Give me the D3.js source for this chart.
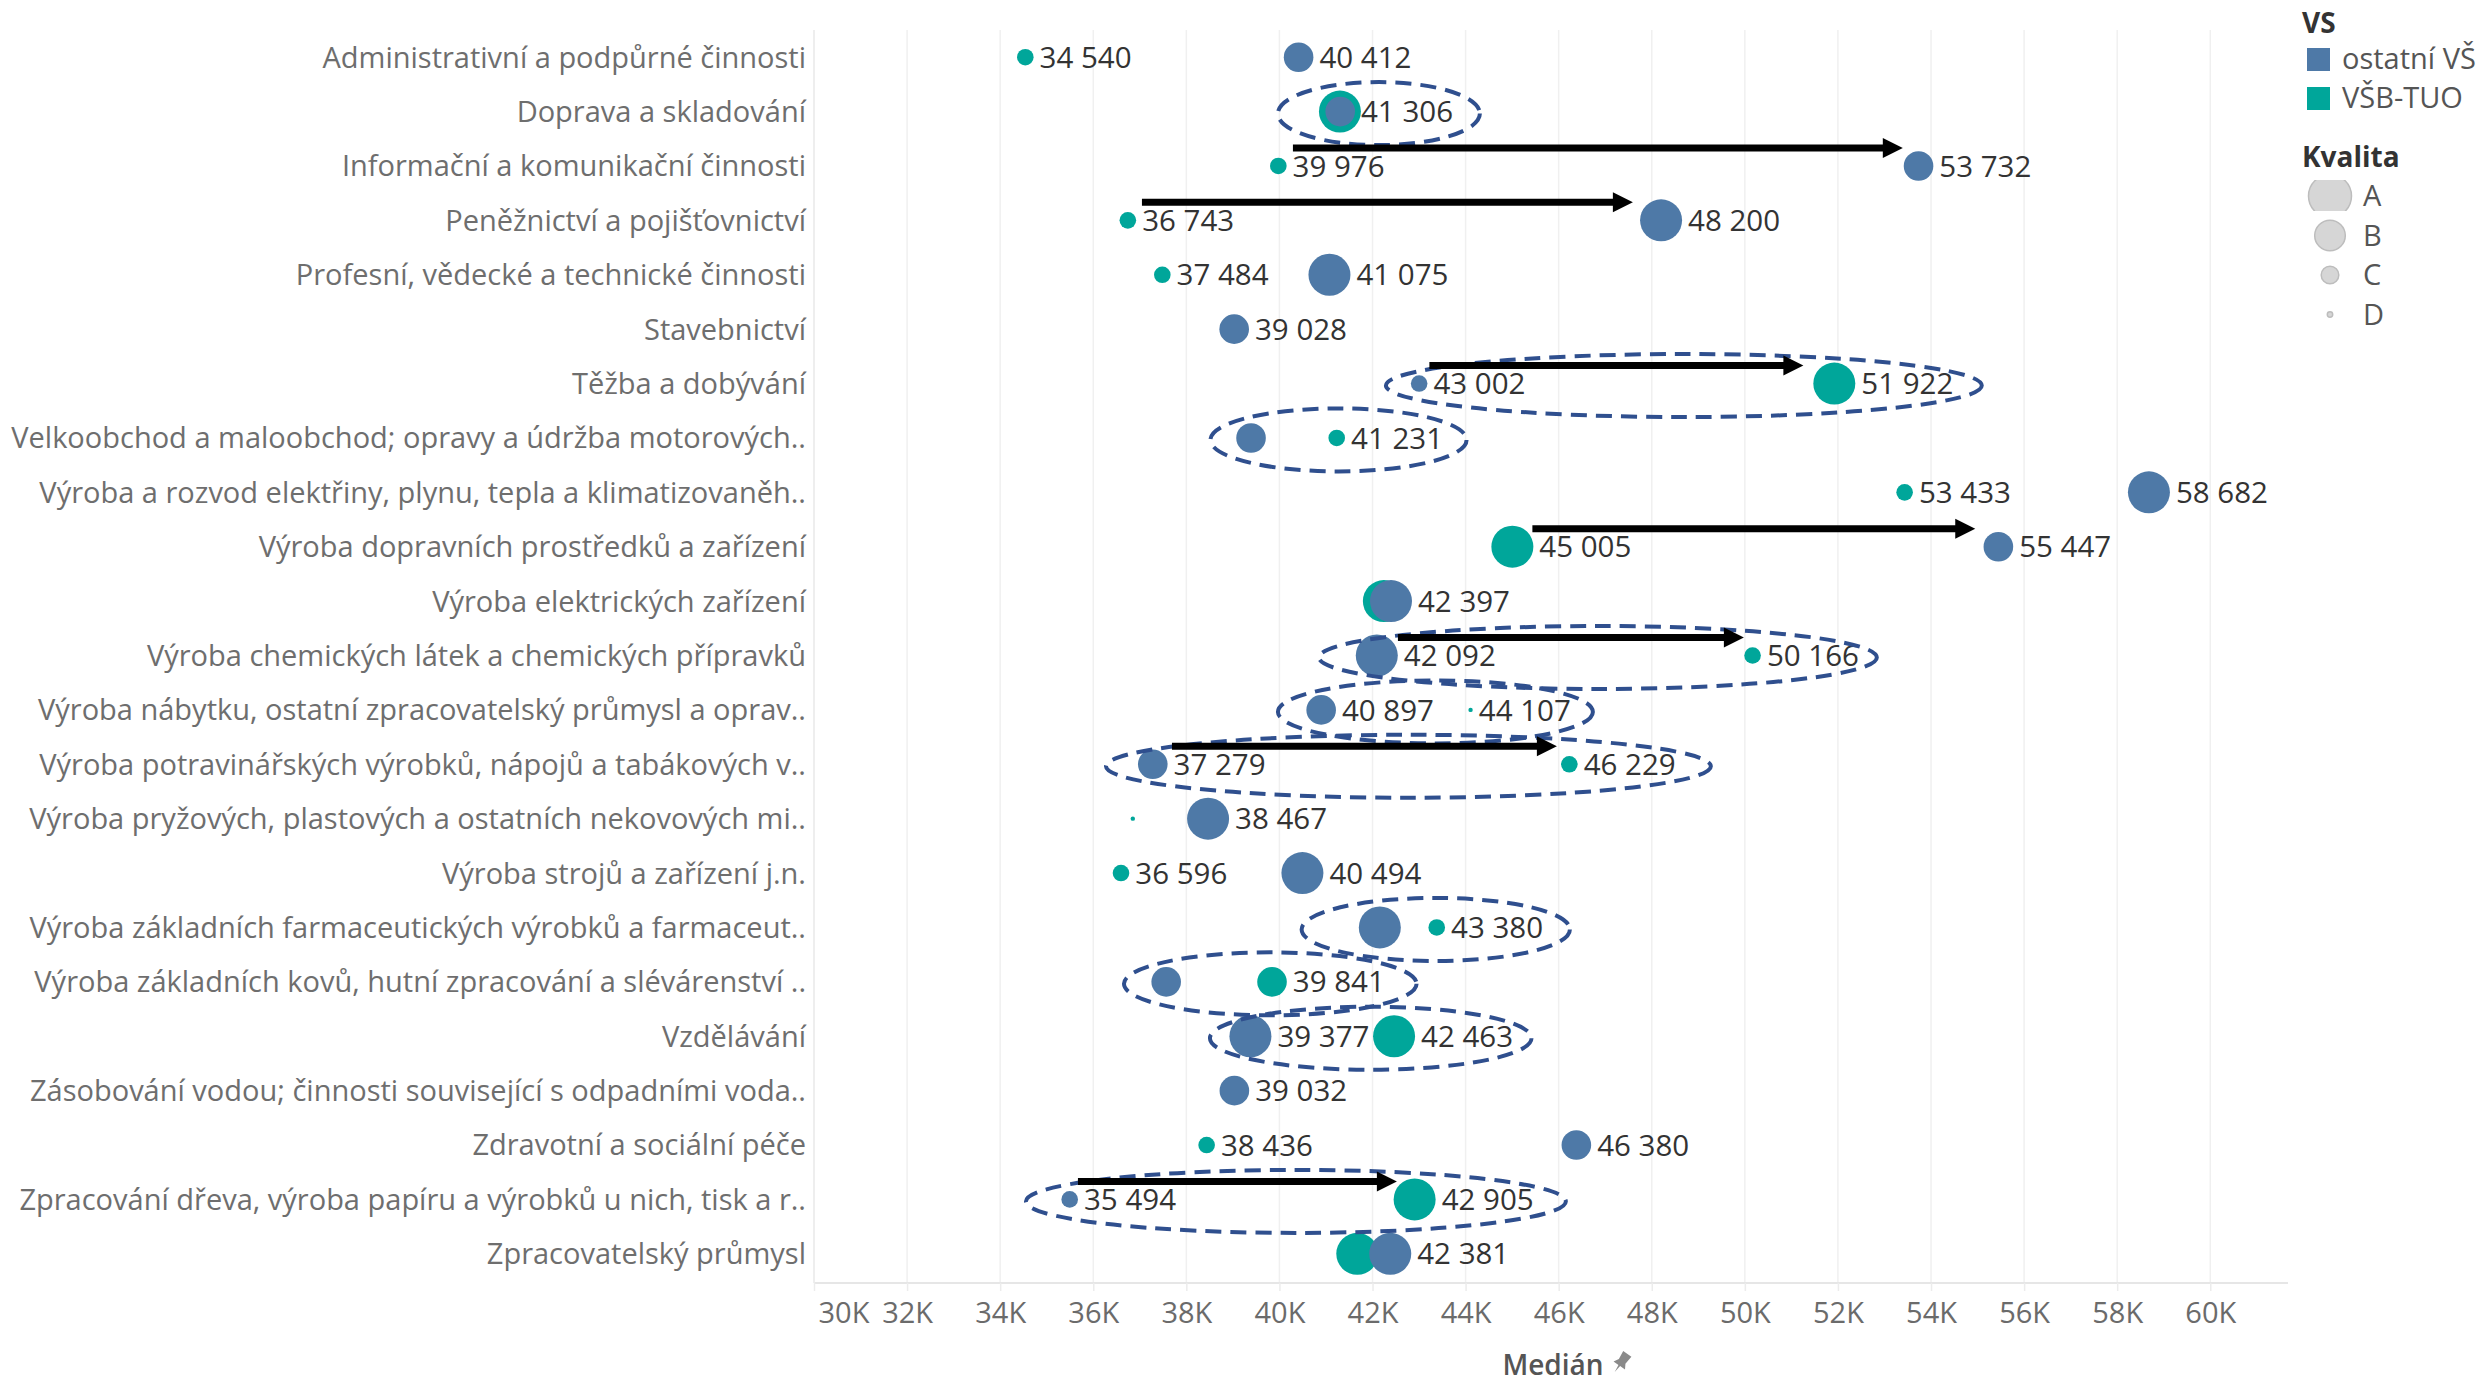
<!DOCTYPE html>
<html><head><meta charset="utf-8">
<script src="https://cdn.jsdelivr.net/npm/d3@7"></script>
<style>
html,body{margin:0;padding:0;background:#fff;}
text{font-family:"Open Sans",sans-serif;}
</style></head>
<body>
<script>
const categories = [
 "Administrativní a podpůrné činnosti",
 "Doprava a skladování",
 "Informační a komunikační činnosti",
 "Peněžnictví a pojišťovnictví",
 "Profesní, vědecké a technické činnosti",
 "Stavebnictví",
 "Těžba a dobývání",
 "Velkoobchod a maloobchod; opravy a údržba motorových..",
 "Výroba a rozvod elektřiny, plynu, tepla a klimatizovaněh..",
 "Výroba dopravních prostředků a zařízení",
 "Výroba elektrických zařízení",
 "Výroba chemických látek a chemických přípravků",
 "Výroba nábytku, ostatní zpracovatelský průmysl a oprav..",
 "Výroba potravinářských výrobků, nápojů a tabákových v..",
 "Výroba pryžových, plastových a ostatních nekovových mi..",
 "Výroba strojů a zařízení j.n.",
 "Výroba základních farmaceutických výrobků a farmaceut..",
 "Výroba základních kovů, hutní zpracování a slévárenství ..",
 "Vzdělávání",
 "Zásobování vodou; činnosti související s odpadními voda..",
 "Zdravotní a sociální péče",
 "Zpracování dřeva, výroba papíru a výrobků u nich, tisk a r..",
 "Zpracovatelský průmysl"
];
// ostatní VŠ
const otherValues  = [40412,41306,53732,48200,41075,39028,43002,39390,58682,55447,42397,42092,40897,37279,38467,40494,42157,37567,39377,39032,46380,35494,42381];
const otherQuality = ["B","B","B","A","A","B","C","B","A","B","A","A","B","B","A","A","A","B","A","B","B","C","A"];
const otherShowLabel = [1,1,1,1,1,1,1,0,1,1,1,1,1,1,1,1,0,0,1,1,1,1,1];
// VŠB-TUO
const vsbValues  = [34540,41300,39976,36743,37484,null,51922,41231,53433,45005,42244,50166,44107,46229,36850,36596,43380,39841,42463,null,38436,42905,41673];
const vsbQuality = ["C","A","C","C","C",null,"A","C","C","A","A","C","D","C","D","C","C","B","A",null,"C","A","A"];
const vsbShowLabel = [1,0,1,1,1,0,1,1,1,1,0,1,1,1,0,1,1,1,1,0,1,1,0];

const tickValues = [30000,32000,34000,36000,38000,40000,42000,44000,46000,48000,50000,52000,54000,56000,58000,60000];
const seriesNames = ["ostatní VŠ","VŠB-TUO"];
const qualityLevels = ["A","B","C","D"];

// annotations (in data units)
const arrowRows  = [2,3,6,9,11,13,21];
const arrowFrom  = [40290,37046,43222,45435,42546,37691,35671];
const arrowTo    = [53394,47594,51257,54950,49979,45961,42524];
const ellipseRows = [1,6,7,11,12,13,16,17,18,21];
const ellipseFrom = [39968,42288,38518,40849,39968,36273,40477,36660,38507,34554];
const ellipseTo   = [44307,55091,44021,52836,46735,49270,46241,42947,45416,46154];

const W = 2486, H = 1386;
const svg = d3.select("body").append("svg").attr("width", W).attr("height", H);

const x = d3.scaleLinear().domain([30000, 61670]).range([814, 2288]);
const y = d3.scaleBand().domain(categories).range([30, 1281]).padding(0);
const cy = c => y(c) + y.bandwidth() / 2;
const color = d3.scaleOrdinal().domain(seriesNames).range(["#4e79a7", "#00a69a"]);
const rSize = d3.scaleOrdinal().domain(qualityLevels).range([21, 14.8, 8.3, 2.2]);
const fmt = d3.formatLocale({decimal: ",", thousands: "\u00a0", grouping: [3]}).format(",d");

// gridlines
svg.append("g").selectAll("line").data(tickValues).join("line")
  .attr("x1", d => x(d)).attr("x2", d => x(d))
  .attr("y1", 30).attr("y2", 1283)
  .attr("stroke", "#f0f0f0").attr("stroke-width", 1.5);

// axis
const axis = d3.axisBottom(x).tickValues(tickValues).tickFormat(d => d / 1000 + "K").tickSize(8).tickSizeOuter(0).tickPadding(11);
const gAxis = svg.append("g").attr("transform", "translate(0,1283)").call(axis);
gAxis.select(".domain").attr("stroke", "#e6e6e6").attr("stroke-width", 2)
  .attr("d", `M${x.range()[0]},0H${x.range()[1]}`);
gAxis.selectAll(".tick line").attr("stroke", "#ececec").attr("stroke-width", 1.5);
gAxis.selectAll(".tick text").attr("fill", "#6b6b6b").style("font-size", "29px")
  .style("font-family", "'Open Sans',sans-serif")
  .attr("text-anchor", d => d === x.domain()[0] ? "start" : "middle")
  .attr("dx", d => d === x.domain()[0] ? 4 : 0);

// left border
svg.append("line").attr("x1", x.range()[0]).attr("x2", x.range()[0]).attr("y1", 30).attr("y2", 1283)
  .attr("stroke", "#ececec").attr("stroke-width", 1.5);

// row labels
svg.append("g").selectAll("text").data(categories).join("text")
  .attr("x", 806).attr("y", d => cy(d)).attr("dy", "0.36em")
  .attr("text-anchor", "end").attr("fill", "#6e6e6e").style("font-size", "29px")
  .text(d => d);

// axis title
svg.append("text").attr("x", 1553).attr("y", 1365).attr("dy", "0.36em").attr("text-anchor", "middle")
  .attr("fill", "#555").style("font-size", "28px").style("font-weight", 600).text("Medián");
// pin icon
svg.append("path").attr("transform", "translate(1621,1363) rotate(35)")
  .attr("d", "M-5,-11 L5,-11 L4,-2 L7,3 L1,3 L0,11 L-1,3 L-7,3 L-4,-2 Z")
  .attr("fill", "#8a8a8a");

// points
const points = [];
categories.forEach((c, i) => {
  if (vsbValues[i] != null) points.push({cat: c, s: seriesNames[1], v: vsbValues[i], q: vsbQuality[i], lab: vsbShowLabel[i]});
});
categories.forEach((c, i) => {
  if (otherValues[i] != null) points.push({cat: c, s: seriesNames[0], v: otherValues[i], q: otherQuality[i], lab: otherShowLabel[i]});
});

svg.append("g").selectAll("circle").data(points).join("circle")
  .attr("cx", d => x(d.v)).attr("cy", d => cy(d.cat)).attr("r", d => rSize(d.q))
  .attr("fill", d => color(d.s));

svg.append("g").selectAll("text").data(points.filter(d => d.lab)).join("text")
  .attr("x", d => x(d.v) + rSize(d.q) + 6).attr("y", d => cy(d.cat)).attr("dy", "0.36em")
  .attr("fill", "#333").style("font-size", "29.5px").text(d => fmt(d.v));

// ellipses
svg.append("g").selectAll("ellipse").data(ellipseRows.map((r, i) => ({r, a: ellipseFrom[i], b: ellipseTo[i]}))).join("ellipse")
  .attr("cx", d => (x(d.a) + x(d.b)) / 2).attr("cy", d => cy(categories[d.r]) + 2)
  .attr("rx", d => (x(d.b) - x(d.a)) / 2).attr("ry", 31.5)
  .attr("fill", "none").attr("stroke", "#2f4f8e").attr("stroke-width", 4).attr("stroke-dasharray", "16,9");

// arrows
const gArr = svg.append("g");
arrowRows.forEach((r, i) => {
  const yy = cy(categories[r]) - 18;
  const x0 = x(arrowFrom[i]), x1 = x(arrowTo[i]);
  gArr.append("line").attr("x1", x0).attr("x2", x1 - 16).attr("y1", yy).attr("y2", yy)
    .attr("stroke", "#000").attr("stroke-width", 7);
  gArr.append("path").attr("d", `M${x1},${yy} L${x1 - 20},${yy - 10} L${x1 - 20},${yy + 10} Z`).attr("fill", "#000");
});

// legend
const lg = svg.append("g");
lg.append("text").attr("x", 2302).attr("y", 33).attr("fill", "#333").style("font-size", "28px").style("font-weight", 700).text("VS");
seriesNames.forEach((s, i) => {
  lg.append("rect").attr("x", 2307).attr("y", 48 + i * 39).attr("width", 23).attr("height", 23).attr("fill", color(s));
  lg.append("text").attr("x", 2342).attr("y", 59 + i * 39).attr("dy", "0.36em").attr("fill", "#555").style("font-size", "29px").text(s);
});
lg.append("text").attr("x", 2302).attr("y", 167).attr("fill", "#333").style("font-size", "28px").style("font-weight", 700).text("Kvalita");
svg.append("clipPath").attr("id", "clipA").append("rect").attr("x", 2300).attr("y", 180).attr("width", 60).attr("height", 31);
qualityLevels.forEach((q, i) => {
  const yy = 196 + i * 39.5;
  lg.append("circle").attr("cx", 2330).attr("cy", yy).attr("r", rSize(q) + 0.5)
    .attr("fill", "#d6d6d6").attr("stroke", "#bdbdbd").attr("stroke-width", 1.5)
    .attr("clip-path", q === "A" ? "url(#clipA)" : null);
  lg.append("text").attr("x", 2363).attr("y", yy).attr("dy", "0.36em").attr("fill", "#555").style("font-size", "29px").text(q);
});
</script>
</body></html>
